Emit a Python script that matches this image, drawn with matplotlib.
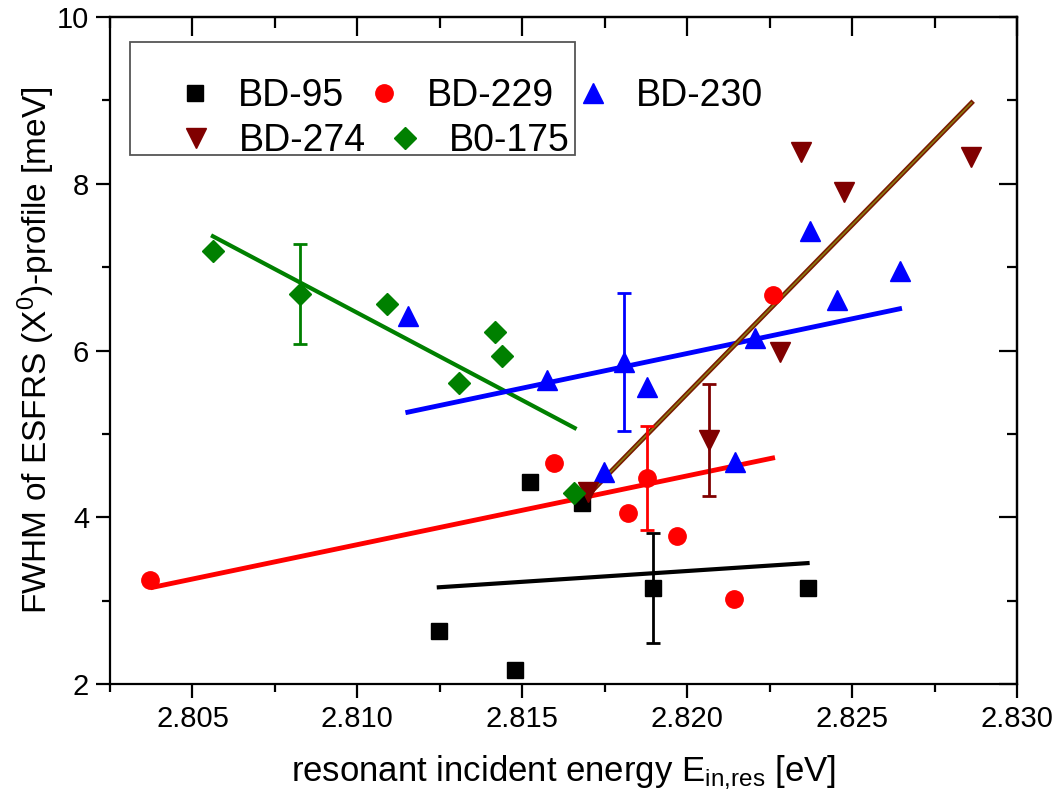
import numpy as np
import matplotlib
matplotlib.use('Agg')
import matplotlib.pyplot as plt
from matplotlib.ticker import MultipleLocator, FormatStrFormatter
from matplotlib.patches import Rectangle

plt.rcParams['font.family'] = ['Liberation Sans', 'DejaVu Sans']
plt.rcParams['mathtext.fontset'] = 'custom'
plt.rcParams['mathtext.rm'] = 'Liberation Sans'
plt.rcParams['mathtext.it'] = 'Liberation Sans'

# FWHM vs resonant energy, one set per sample
bd95_x = [2.81247, 2.81477, 2.81523, 2.81680, 2.81895, 2.82365]
bd95_y = [2.64, 2.17, 4.42, 4.17, 3.15, 3.15]
bd229_x = [2.80371, 2.81595, 2.81820, 2.81877, 2.81968, 2.82141, 2.82259]
bd229_y = [3.25, 4.65, 4.05, 4.47, 3.78, 3.02, 6.66]
bd230_x = [2.81153, 2.81574, 2.81808, 2.81877, 2.81747, 2.82144, 2.82205, 2.82371, 2.82453, 2.82644]
bd230_y = [6.41, 5.65, 5.86, 5.56, 4.54, 4.66, 6.15, 7.43, 6.60, 6.95]
bd274_x = [2.81698, 2.82065, 2.82280, 2.82344, 2.82474, 2.82862]
bd274_y = [4.30, 4.93, 5.98, 8.38, 7.90, 8.32]
b0175_x = [2.80562, 2.80826, 2.81089, 2.81308, 2.81417, 2.81438, 2.81656]
b0175_y = [7.19, 6.68, 6.56, 5.61, 6.22, 5.93, 4.29]

# one representative error bar per sample: x, y, +/- err
err_bd95 = (2.81895, 3.15, 0.66)
err_bd229 = (2.81877, 4.47, 0.62)
err_bd230 = (2.81808, 5.86, 0.83)
err_bd274 = (2.82065, 4.93, 0.67)
err_b0175 = (2.80826, 6.68, 0.60)

# linear fits: (x_start, x_end), (y_start, y_end)
fit_bd95 = ([2.81247, 2.82365], [3.16, 3.45])
fit_bd229 = ([2.80380, 2.82259], [3.16, 4.71])
fit_bd230 = ([2.81153, 2.82644], [5.26, 6.50])
fit_bd274 = ([2.81705, 2.82862], [4.29, 8.97])
fit_b0175 = ([2.80562, 2.81659], [7.37, 5.07])

W, H = 1059, 801
fig = plt.figure(figsize=(W/100, H/100), dpi=100)
ax = fig.add_axes([110/W, 1-684/H, 907/W, 667/H])

# fit lines
ax.plot(*fit_b0175, '-', color='green', lw=3, zorder=2)
ax.plot(*fit_bd230, '-', color='blue', lw=3.5, zorder=2)
ax.plot(*fit_bd229, '-', color='red', lw=3.5, zorder=2)
ax.plot(*fit_bd95, '-', color='black', lw=3, zorder=2)
ax.plot(*fit_bd274, '-', color='#7a1a00', lw=3.5, zorder=2)
ax.plot(*fit_bd274, '-', color='#8a7a10', lw=1.2, zorder=2)

# error bars
for (ex, ey, ee), c in [(err_bd95, 'black'), (err_bd229, 'red'), (err_bd230, 'blue'),
                         (err_bd274, '#800000'), (err_b0175, 'green')]:
    ax.errorbar([ex], [ey], yerr=[ee], fmt='none', ecolor=c, elinewidth=2,
                capsize=5, capthick=2, zorder=3)

# data points
p95, = ax.plot(bd95_x, bd95_y, 's', color='black', ms=11, ls='none', zorder=4)
p229, = ax.plot(bd229_x, bd229_y, 'o', color='red', ms=12.5, ls='none', zorder=4)
p230, = ax.plot(bd230_x, bd230_y, '^', color='blue', ms=14.5, ls='none', zorder=4)
p274, = ax.plot(bd274_x, bd274_y, 'v', color='#800000', ms=14.5, ls='none', zorder=4)
p175, = ax.plot(b0175_x, b0175_y, 'D', color='green', ms=11.5, ls='none', zorder=4)

ax.set_xlim(2.8025, 2.830)
ax.set_ylim(2, 10)
ax.xaxis.set_major_locator(MultipleLocator(0.005))
ax.xaxis.set_minor_locator(MultipleLocator(0.0025))
ax.yaxis.set_major_locator(MultipleLocator(2))
ax.yaxis.set_minor_locator(MultipleLocator(1))
ax.xaxis.set_major_formatter(FormatStrFormatter('%.3f'))
ax.yaxis.set_major_formatter(FormatStrFormatter('%d'))

for s in ax.spines.values():
    s.set_linewidth(1.6)
ax.tick_params(which='both', direction='out', top=False, right=False, width=1.6, labelsize=21)
ax.tick_params(which='major', length=10, pad=5)
ax.tick_params(which='minor', length=6)

# inward ticks on the top and right edges
sec_x = ax.secondary_xaxis('top')
sec_x.xaxis.set_major_locator(MultipleLocator(0.005))
sec_x.xaxis.set_minor_locator(MultipleLocator(0.0025))
sec_x.tick_params(which='both', direction='in', width=1.6, labeltop=False)
sec_x.tick_params(which='major', length=14)
sec_x.tick_params(which='minor', length=8)
sec_x.spines['top'].set_linewidth(1.6)
sec_y = ax.secondary_yaxis('right')
sec_y.yaxis.set_major_locator(MultipleLocator(2))
sec_y.yaxis.set_minor_locator(MultipleLocator(1))
sec_y.tick_params(which='both', direction='in', width=1.6, labelright=False)
sec_y.tick_params(which='major', length=13)
sec_y.tick_params(which='minor', length=7)
sec_y.spines['right'].set_linewidth(1.6)

ax.set_xlabel(r'resonant incident energy E$_{\mathregular{in{,}res}}$ [eV]', fontsize=25, labelpad=15)
ax.set_ylabel(r'FWHM of ESFRS (X$^{\mathregular{0}}$)-profile [meV]', fontsize=24, labelpad=0)

# legend: frame box plus two rows of entries
ax.add_patch(Rectangle((20/907, (684-155)/667), 445/907, 113/667, transform=ax.transAxes,
                       fill=False, edgecolor='#555555', lw=1.3, zorder=5))
leg_kw = dict(frameon=False, fontsize=27, loc='center left', borderpad=0,
              handlelength=1.0, handletextpad=0.65, columnspacing=0.55, borderaxespad=0)
leg1 = ax.legend([p95, p229, p230], ['BD-95', 'BD-229', 'BD-230'], ncol=3,
                 bbox_to_anchor=(66/907, (684-96)/667), **leg_kw)
ax.add_artist(leg1)
ax.legend([p274, p175], ['BD-274', 'B0-175'], ncol=2,
          bbox_to_anchor=(67/907, (684-141)/667), **leg_kw)

fig.savefig('out.png', dpi=100)
